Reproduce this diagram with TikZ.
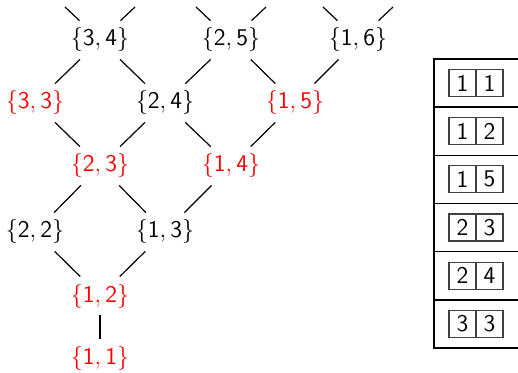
\documentclass[tikz,border=0pt]{standalone}
\usepackage{amsmath, amssymb}
\usepackage[dvipsnames]{xcolor}
\usepackage{tikz}

\newcommand{\pair}[2]{$\{\mathsf{#1},\mathsf{#2}\}$}

\tikzset{
  pt/.style={font=\large, inner sep=3.5pt},
  hit/.style={pt, text=red},
  lnk/.style={black, line width=0.6pt},
  cell/.style={draw=black!75, line width=0.55pt, minimum size=13.5pt, inner sep=0pt, font=\large\sffamily},
  frame/.style={black, line width=0.8pt}
}

\begin{document}
\begin{tikzpicture}[x=0.5pt, y=-0.5pt]
  \useasboundingbox (0,0) rectangle (518,373);
  % lattice
  \node[pt]  (n34) at (100,40)  {\pair{3}{4}};
  \node[pt]  (n25) at (231,40)  {\pair{2}{5}};
  \node[pt]  (n16) at (358,40)  {\pair{1}{6}};
  \node[hit] (n33) at (35,103)  {\pair{3}{3}};
  \node[pt]  (n24) at (165,103) {\pair{2}{4}};
  \node[hit] (n15) at (295,103) {\pair{1}{5}};
  \node[hit] (n23) at (100,166) {\pair{2}{3}};
  \node[hit] (n14) at (231,166) {\pair{1}{4}};
  \node[pt]  (n22) at (35,232)  {\pair{2}{2}};
  \node[pt]  (n13) at (165,232) {\pair{1}{3}};
  \node[hit] (n12) at (100,296) {\pair{1}{2}};
  \node[hit] (n11) at (100,358) {\pair{1}{1}};
  % loose ends at the top
  \coordinate (u1) at (65,7);
  \coordinate (u2) at (135,7);
  \coordinate (u3) at (196,7);
  \coordinate (u4) at (266,7);
  \coordinate (u5) at (323,7);
  \coordinate (u6) at (393,7);
  \draw[lnk] (n34) -- (u1) (n34) -- (u2);
  \draw[lnk] (n25) -- (u3) (n25) -- (u4);
  \draw[lnk] (n16) -- (u5) (n16) -- (u6);
  \draw[lnk] (n34) -- (n33) (n34) -- (n24);
  \draw[lnk] (n25) -- (n24) (n25) -- (n15);
  \draw[lnk] (n16) -- (n15);
  \draw[lnk] (n33) -- (n23) (n24) -- (n23);
  \draw[lnk] (n24) -- (n14) (n15) -- (n14);
  \draw[lnk] (n23) -- (n22) (n23) -- (n13);
  \draw[lnk] (n14) -- (n13);
  \draw[lnk] (n22) -- (n12) (n13) -- (n12);
  \draw[lnk] (n12) -- (n11);
  % list of tableaux
  \draw[frame] (434,59) rectangle (523,348);
  \foreach \k in {1,...,5}
    \draw[frame] (434,{59+48.17*\k}) -- (523,{59+48.17*\k});
  \foreach \a/\b [count=\i] in {1/1,1/2,1/5,2/3,2/4,3/3} {
    \node[cell] (l\i) at (462.5,{83+48.17*(\i-1)}) {\a};
    \node[cell] (r\i) at (489.5,{83+48.17*(\i-1)}) {\b};
  }
\end{tikzpicture}
\end{document}
